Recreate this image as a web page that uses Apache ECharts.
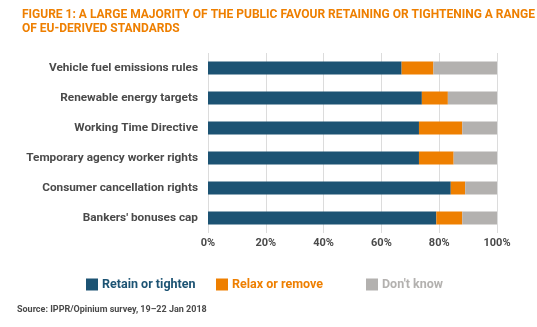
<!DOCTYPE html>
<html><head><meta charset="utf-8">
<script src="https://cdn.jsdelivr.net/npm/echarts@6/dist/echarts.min.js"></script>
<style>html,body{margin:0;padding:0;background:#fff}#c{width:537px;height:327px}</style>
</head><body><div id="c"></div>
<script>
const categories = ["Vehicle fuel emissions rules","Renewable energy targets","Working Time Directive","Temporary agency worker rights","Consumer cancellation rights","Bankers' bonuses cap"];
const retain = [67,74,73,73,84,79];
const relax = [11,9,15,12,5,9];
const dontKnow = [22,17,12,15,11,12];
const xTicks = [0,20,40,60,80,100];
const seriesNames = ["Retain or tighten","Relax or remove","Don't know"];
const colors = ["#1C5373","#EE7F00","#B3B1AF"];
const FONT = "Roboto";
const txt = "#4a4a4a";

const chart = echarts.init(document.getElementById('c'), null, {renderer:'canvas'});
function lg(i, left){
  return {data:[{name:seriesNames[i], textStyle:{color:colors[i]}}], left:left, top:278, padding:0, itemWidth:12, itemHeight:12, itemGap:0,
    icon:'rect', textStyle:{fontFamily:FONT, fontWeight:'bold', fontSize:12.5, padding:[0,0,0,-1]}};
}
chart.setOption({
  animation:false,
  title:{text:"FIGURE 1: A LARGE MAJORITY OF THE PUBLIC FAVOUR RETAINING OR TIGHTENING A RANGE\nOF EU-DERIVED STANDARDS",
    left:17, top:3, textStyle:{fontFamily:FONT, fontWeight:'bold', fontSize:12, lineHeight:14, color:'#EE7F00'}},
  legend:[lg(0,86), lg(1,216), lg(2,366)],
  grid:{left:208, right:40, top:53, height:180},
  xAxis:{type:'value', min:0, max:100, interval:20,
    axisLine:{show:false}, axisTick:{show:false},
    splitLine:{show:true, lineStyle:{color:'#DCDCDC', width:1}},
    axisLabel:{formatter:'{value}%', color:txt, fontFamily:FONT, fontWeight:'bold', fontSize:11, margin:5}},
  yAxis:{type:'category', data:categories, inverse:true,
    axisLine:{show:false}, axisTick:{show:false},
    axisLabel:{color:txt, fontFamily:FONT, fontWeight:'bold', fontSize:11.8, margin:10}},
  series:[retain, relax, dontKnow].map((d,i)=>({
    name:seriesNames[i], type:'bar', stack:'t', data:d, barWidth:13,
    itemStyle:{color:colors[i]}
  })),
  graphic:[{type:'text', left:17, top:305, style:{text:"Source: IPPR/Opinium survey, 19–22 Jan 2018",
    fontFamily:FONT, fontWeight:'bold', fontSize:9, fill:txt}}]
});
</script></body></html>
